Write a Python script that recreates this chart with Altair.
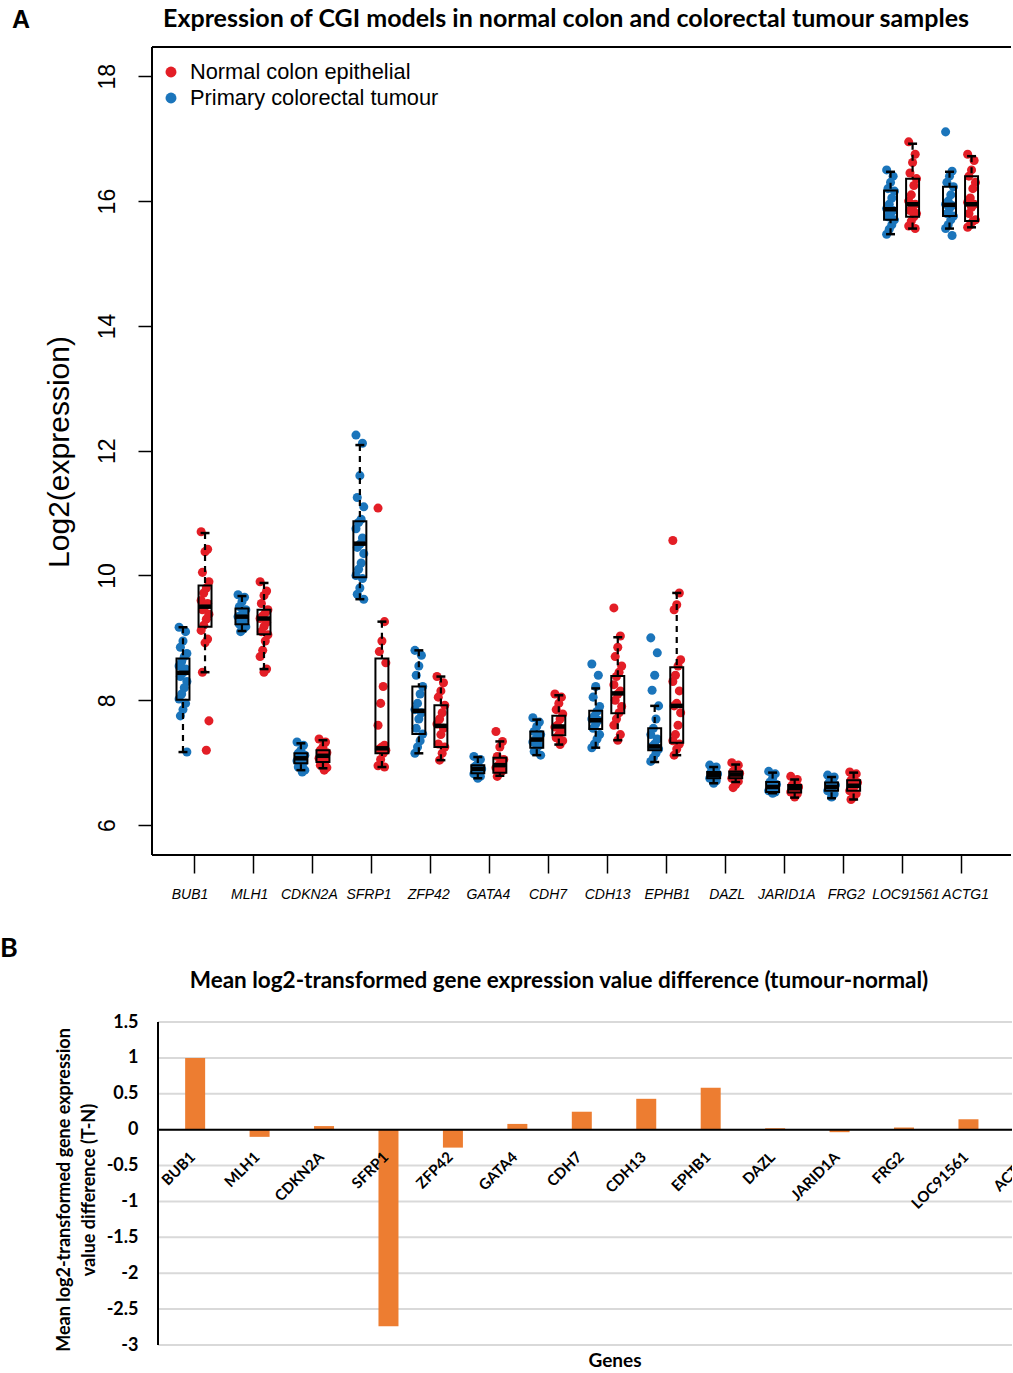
import altair as alt
import pandas as pd

genes = ["BUB1", "MLH1", "CDKN2A", "SFRP1", "ZFP42", "GATA4", "CDH7", "CDH13",
         "EPHB1", "DAZL", "JARID1A", "FRG2", "LOC91561", "ACTG1"]

# Panel A: individual samples (log2 expression)
tumour_points = [
    [9.17, 9.10, 8.95, 8.85, 8.75, 8.70, 8.62, 8.55, 8.50, 8.44, 8.38, 8.30, 8.20, 8.10, 8.02, 7.95, 7.85, 7.75, 7.17],
    [9.69, 9.65, 9.58, 9.50, 9.45, 9.40, 9.36, 9.34, 9.30, 9.26, 9.22, 9.18, 9.14, 9.10],
    [7.33, 7.28, 7.20, 7.15, 7.12, 7.08, 7.06, 7.03, 7.00, 6.97, 6.93, 6.88, 6.85],
    [12.25, 12.12, 11.60, 11.25, 11.10, 10.90, 10.85, 10.75, 10.60, 10.50, 10.45, 10.35, 10.20, 10.10, 10.00, 9.95, 9.80, 9.70, 9.62],
    [8.80, 8.72, 8.55, 8.40, 8.22, 8.10, 7.95, 7.85, 7.80, 7.70, 7.55, 7.46, 7.35, 7.25, 7.15],
    [7.10, 7.05, 6.98, 6.94, 6.90, 6.88, 6.85, 6.82, 6.78, 6.75],
    [7.72, 7.65, 7.58, 7.50, 7.45, 7.40, 7.37, 7.33, 7.28, 7.24, 7.18, 7.12],
    [8.58, 8.40, 8.22, 8.05, 7.90, 7.82, 7.75, 7.70, 7.68, 7.62, 7.55, 7.45, 7.38, 7.30, 7.24],
    [9.00, 8.76, 8.40, 8.16, 7.91, 7.70, 7.55, 7.45, 7.38, 7.30, 7.26, 7.22, 7.15, 7.08, 7.02],
    [6.96, 6.93, 6.88, 6.85, 6.82, 6.80, 6.78, 6.75, 6.71, 6.67],
    [6.86, 6.82, 6.75, 6.69, 6.65, 6.61, 6.58, 6.55, 6.53, 6.51],
    [6.80, 6.77, 6.72, 6.68, 6.64, 6.61, 6.58, 6.55, 6.50, 6.45],
    [16.50, 16.40, 16.30, 16.20, 16.16, 16.05, 15.95, 15.88, 15.85, 15.80, 15.75, 15.70, 15.62, 15.55, 15.47],
    [17.11, 16.48, 16.40, 16.30, 16.23, 16.10, 16.00, 15.95, 15.93, 15.88, 15.80, 15.76, 15.70, 15.62, 15.56, 15.45],
]
normal_points = [
    [10.70, 10.42, 10.38, 10.05, 9.90, 9.80, 9.72, 9.60, 9.55, 9.50, 9.45, 9.38, 9.30, 9.20, 9.12, 8.98, 8.92, 8.45, 7.67, 7.20],
    [9.90, 9.75, 9.68, 9.55, 9.45, 9.40, 9.35, 9.31, 9.25, 9.18, 9.10, 9.05, 8.95, 8.80, 8.70, 8.50, 8.45],
    [7.38, 7.33, 7.25, 7.20, 7.16, 7.12, 7.10, 7.07, 7.03, 7.00, 6.96, 6.92, 6.88],
    [11.08, 9.26, 8.95, 8.78, 8.60, 8.22, 7.95, 7.60, 7.28, 7.25, 7.22, 7.20, 7.15, 7.05, 6.95, 6.93],
    [8.38, 8.28, 8.15, 8.05, 7.92, 7.80, 7.70, 7.62, 7.55, 7.45, 7.30, 7.25, 7.15, 7.04],
    [7.50, 7.34, 7.25, 7.10, 7.05, 7.00, 6.96, 6.92, 6.87, 6.83, 6.78],
    [8.10, 8.05, 7.95, 7.85, 7.78, 7.70, 7.60, 7.57, 7.52, 7.45, 7.40, 7.35, 7.29],
    [9.48, 9.03, 8.85, 8.70, 8.55, 8.45, 8.38, 8.25, 8.15, 8.10, 8.00, 7.90, 7.80, 7.70, 7.60, 7.45, 7.36],
    [10.56, 9.72, 9.53, 9.45, 8.65, 8.55, 8.40, 8.30, 8.15, 7.95, 7.91, 7.80, 7.60, 7.45, 7.35, 7.30, 7.22, 7.12],
    [7.00, 6.96, 6.90, 6.86, 6.83, 6.81, 6.79, 6.75, 6.70, 6.65, 6.60],
    [6.78, 6.73, 6.68, 6.64, 6.61, 6.59, 6.56, 6.53, 6.50, 6.45],
    [6.85, 6.82, 6.77, 6.72, 6.68, 6.63, 6.60, 6.55, 6.50, 6.45, 6.41],
    [16.95, 16.75, 16.62, 16.45, 16.36, 16.25, 16.10, 16.00, 15.95, 15.90, 15.85, 15.80, 15.75, 15.68, 15.60, 15.56],
    [16.75, 16.65, 16.50, 16.40, 16.30, 16.20, 16.05, 15.98, 15.95, 15.90, 15.80, 15.70, 15.68, 15.62, 15.58],
]

# Panel A: box statistics
tumour_q1 = [8.01, 9.22, 6.99, 9.97, 7.46, 6.83, 7.24, 7.54, 7.20, 6.75, 6.53, 6.55, 15.70, 15.76]
tumour_med = [8.44, 9.34, 7.07, 10.51, 7.83, 6.90, 7.37, 7.68, 7.26, 6.80, 6.61, 6.61, 15.87, 15.94]
tumour_q3 = [8.67, 9.47, 7.15, 10.87, 8.22, 6.96, 7.50, 7.83, 7.55, 6.85, 6.69, 6.68, 16.17, 16.23]
tumour_lo = [7.17, 9.11, 6.88, 9.62, 7.15, 6.75, 7.12, 7.24, 7.01, 6.67, 6.51, 6.43, 15.47, 15.56]
tumour_hi = [9.17, 9.67, 7.31, 12.09, 8.80, 7.09, 7.69, 8.19, 7.91, 6.93, 6.84, 6.77, 16.47, 16.47]

normal_q1 = [9.18, 9.06, 7.01, 7.15, 7.25, 6.84, 7.44, 7.79, 7.32, 6.75, 6.52, 6.55, 15.75, 15.68]
normal_med = [9.50, 9.31, 7.11, 7.23, 7.59, 6.96, 7.58, 8.11, 7.91, 6.81, 6.59, 6.63, 15.95, 15.95]
normal_q3 = [9.84, 9.45, 7.20, 8.67, 7.92, 7.08, 7.75, 8.39, 8.53, 6.86, 6.64, 6.72, 16.36, 16.40]
normal_lo = [8.45, 8.50, 6.91, 6.93, 7.04, 6.79, 7.29, 7.36, 7.12, 6.69, 6.44, 6.41, 15.56, 15.58]
normal_hi = [10.68, 9.88, 7.36, 9.26, 8.38, 7.34, 8.08, 9.01, 9.72, 6.97, 6.73, 6.84, 16.92, 16.72]

# Panel B: mean difference (tumour - normal)
diff_values = [1.00, -0.10, 0.05, -2.74, -0.25, 0.08, 0.25, 0.43, 0.585, 0.02, -0.035, 0.03, 0.145, 0.01]

legend_labels = ["Normal colon epithelial", "Primary colorectal tumour"]
ya_ticks = [6, 8, 10, 12, 14, 16, 18]
yb_ticks = [1.5, 1.0, 0.5, 0.0, -0.5, -1.0, -1.5, -2.0, -2.5, -3.0]

title_a = "Expression of CGI models in normal colon and colorectal tumour samples"
title_b = "Mean log2-transformed gene expression value difference (tumour-normal)"
ytitle_a = "Log2(expression)"
ytitle_b = ["Mean log2-transformed gene expression", "value difference (T-N)"]
xtitle_b = "Genes"

# ---------------- styling ----------------
BLUE = "#1B75BB"
RED = "#E31E26"
ORANGE = "#ED7D31"
W = 860
HA = 808
HB = 323
OFF = 0.187      # half distance between the two boxes of a gene
BOXW = 0.11      # half box width
CAPW = 0.076     # half cap width
XA_DOMAIN = [-0.7124, 13.873]
YA_DOMAIN = [5.52, 18.47]
XB_DOMAIN = [-0.592, 12.598]
YB_DOMAIN = [-3.0, 1.5]
LABEL_A_START = -0.068   # x-axis label layout of panel A
LABEL_A_STEP = 1.012
SANS = "Liberation Sans"
BOLD = "Lato"

# ---------------- tables ----------------
prow = []
brow = []
for i, g in enumerate(genes):
    for grp, pts, sign, q1, md, q3, lo, hi in (
        ("Tumour", tumour_points[i], -1, tumour_q1[i], tumour_med[i], tumour_q3[i], tumour_lo[i], tumour_hi[i]),
        ("Normal", normal_points[i], 1, normal_q1[i], normal_med[i], normal_q3[i], normal_lo[i], normal_hi[i]),
    ):
        c = i + sign * OFF
        for k, v in enumerate(pts):
            jit = ((k * 5) % 7 - 3) * 0.022
            prow.append({"gene": g, "group": grp, "value": v, "pos": c + jit})
        brow.append({"gene": g, "group": grp, "pos": c, "q1": q1, "med": md, "q3": q3,
                     "lo": lo, "hi": hi, "bl": c - BOXW, "br": c + BOXW,
                     "cl": c - CAPW, "cr": c + CAPW})
pts_df = pd.DataFrame(prow)
box_df = pd.DataFrame(brow)
gene_df = pd.DataFrame({"gene": genes, "idx": list(range(len(genes)))})
one = pd.DataFrame({"t": [0]})

xa = alt.Scale(domain=XA_DOMAIN, nice=False, zero=False)
ya = alt.Scale(domain=YA_DOMAIN, nice=False, zero=False)
color_scale = alt.Scale(domain=["Tumour", "Normal"], range=[BLUE, RED])

x_axis_a = alt.Axis(values=list(range(len(genes))), labels=False, tickSize=18, tickWidth=1.5,
                    tickColor="black", domain=False, grid=False, title=None)
y_axis_a = alt.Axis(values=ya_ticks, tickSize=14, tickWidth=1.5, tickColor="black", labelAngle=270,
                    labelAlign="center", labelBaseline="alphabetic", labelPadding=24, labelFont=SANS,
                    labelFontSize=23, labelColor="black", domain=False, grid=False, title=None,
                    labelOverlap=False, labelFlush=False)


def XA(field):
    return alt.X(field, type="quantitative", scale=xa, axis=x_axis_a)


def YA(field):
    return alt.Y(field, type="quantitative", scale=ya, axis=y_axis_a)


points = alt.Chart(pts_df).mark_circle(size=82, opacity=1).encode(
    x=XA("pos"), y=YA("value"),
    color=alt.Color("group:N", scale=color_scale, legend=None),
)

base_box = alt.Chart(box_df)
whisk_hi = base_box.mark_rule(color="black", strokeWidth=2.2, strokeDash=[6, 5]).encode(
    x=XA("pos"), y=YA("hi"), y2="q3:Q")
whisk_lo = base_box.mark_rule(color="black", strokeWidth=2.2, strokeDash=[6, 5]).encode(
    x=XA("pos"), y=YA("lo"), y2="q1:Q")
cap_hi = base_box.mark_rule(color="black", strokeWidth=2.5).encode(
    x=XA("cl"), x2="cr:Q", y=YA("hi"))
cap_lo = base_box.mark_rule(color="black", strokeWidth=2.5).encode(
    x=XA("cl"), x2="cr:Q", y=YA("lo"))
boxes = base_box.mark_rect(fillOpacity=0, stroke="black", strokeWidth=2).encode(
    x=XA("bl"), x2="br:Q", y=YA("q1"), y2="q3:Q")
medians = base_box.mark_rule(color="black", strokeWidth=4.5).encode(
    x=XA("bl"), x2="br:Q", y=YA("med"))

xlabels_a = alt.Chart(gene_df).transform_calculate(
    lx=f"{LABEL_A_START} + {LABEL_A_STEP} * datum.idx"
).mark_text(font=SANS, fontStyle="italic", fontSize=14, align="center", baseline="alphabetic",
            color="black").encode(
    x=XA("lx"), y=alt.value(HA + 44), text="gene:N")

frame = alt.layer(
    alt.Chart(one).mark_rule(color="black", strokeWidth=2).encode(x=alt.value(0), y=alt.value(0), y2=alt.value(HA)),
    alt.Chart(one).mark_rule(color="black", strokeWidth=2).encode(x=alt.value(0), x2=alt.value(W - 1), y=alt.value(0)),
    alt.Chart(one).mark_rule(color="black", strokeWidth=2).encode(x=alt.value(0), x2=alt.value(W - 1), y=alt.value(HA)),
)

anchor = alt.Chart(one).mark_rule(strokeWidth=0, strokeOpacity=0).encode(
    x=alt.value(-152), x2=alt.value(-152), y=alt.value(-47), y2=alt.value(-46))

leg_layers = []
for lab, col, yy in ((legend_labels[0], RED, 25), (legend_labels[1], BLUE, 51)):
    leg_layers.append(alt.Chart(one).mark_circle(size=120, opacity=1, color=col).encode(
        x=alt.value(19), y=alt.value(yy)))
    leg_layers.append(alt.Chart(one).mark_text(text=lab, align="left", baseline="middle", font=SANS,
                                               fontSize=21.8, color="black").encode(
        x=alt.value(38), y=alt.value(yy)))

title_a_mark = alt.Chart(one).mark_text(text=title_a, font=BOLD, fontWeight="bold", fontSize=25,
                                        align="center", baseline="alphabetic", color="black").encode(
    x=alt.value(414), y=alt.value(-20))
letter_a = alt.Chart(one).mark_text(text="A", font=SANS, fontWeight="bold", fontSize=25,
                                    align="left", baseline="alphabetic", color="black").encode(
    x=alt.value(-140), y=alt.value(-19))
ytitle_a_mark = alt.Chart(one).mark_text(text=ytitle_a, font=SANS, fontSize=30, angle=270,
                                         align="center", baseline="alphabetic", color="black").encode(
    x=alt.value(-83), y=alt.value(405))

panel_a = alt.layer(
    points, whisk_hi, whisk_lo, boxes, medians, cap_hi, cap_lo, frame, xlabels_a,
    *leg_layers, title_a_mark, letter_a, ytitle_a_mark, anchor,
).properties(width=W, height=HA)

# ---------------- panel B ----------------
xb = alt.Scale(domain=XB_DOMAIN, nice=False, zero=False)
yb = alt.Scale(domain=YB_DOMAIN, nice=False, zero=False)
LABEL_Y = -0.348
LABEL_DX = -0.04

bar_df = pd.DataFrame({"gene": genes, "idx": list(range(len(genes))), "diff": diff_values})
grid_df = pd.DataFrame({"g": yb_ticks})
zero_df = pd.DataFrame({"z": [0.0]})

y_axis_b = alt.Axis(values=yb_ticks, labelExpr="'' + datum.value", ticks=False,
                    labelPadding=14, labelFont=BOLD, labelFontWeight="bold", labelFontSize=18,
                    labelColor="black", labelAlign="right", labelBaseline="middle",
                    domain=False, grid=False, title=None, labelOverlap=False, labelFlush=False)


def XB(field):
    return alt.X(field, type="quantitative", scale=xb, axis=None)


def YB(field):
    return alt.Y(field, type="quantitative", scale=yb, axis=y_axis_b)


grid = alt.Chart(grid_df).mark_rule(color="#D9D9D9", strokeWidth=2).encode(
    y=YB("g"), x=alt.value(6), x2=alt.value(W))
bars = alt.Chart(bar_df).mark_bar(size=20, color=ORANGE, clip=True).encode(
    x=XB("idx"), y=YB("diff"),
)
zero_line = alt.Chart(zero_df).mark_rule(color="black", strokeWidth=2).encode(
    y=YB("z"), x=alt.value(6), x2=alt.value(W))
yline_b = alt.Chart(one).mark_rule(color="black", strokeWidth=2).encode(
    x=alt.value(6), y=alt.value(0), y2=alt.value(HB))
labels_b = alt.Chart(bar_df).transform_calculate(
    lx="datum.idx + " + str(LABEL_DX), ly=str(LABEL_Y)
).mark_text(angle=315, align="right", baseline="middle", font=BOLD, fontWeight="bold",
            fontSize=15, color="black", clip=True).encode(
    x=XB("lx"), y=YB("ly"), text="gene:N",
)
title_b_mark = alt.Chart(one).mark_text(text=title_b, font=BOLD, fontWeight="bold", fontSize=22.5,
                                        align="center", baseline="alphabetic", color="black").encode(
    x=alt.value(407), y=alt.value(-34))
letter_b = alt.Chart(one).mark_text(text="B", font=BOLD, fontWeight="bold", fontSize=27,
                                    align="left", baseline="alphabetic", color="black").encode(
    x=alt.value(-152), y=alt.value(-65))
ytitle_b1 = alt.Chart(one).mark_text(text=ytitle_b[0], font=BOLD, fontWeight="bold", fontSize=18,
                                     angle=270, align="center", baseline="alphabetic",
                                     color="black").encode(x=alt.value(-82), y=alt.value(168))
ytitle_b2 = alt.Chart(one).mark_text(text=ytitle_b[1], font=BOLD, fontWeight="bold", fontSize=18,
                                     angle=270, align="center", baseline="alphabetic",
                                     color="black").encode(x=alt.value(-57), y=alt.value(168))
xtitle_b_mark = alt.Chart(one).mark_text(text=xtitle_b, font=BOLD, fontWeight="bold", fontSize=19,
                                         align="center", baseline="alphabetic", color="black").encode(
    x=alt.value(463), y=alt.value(345))

panel_b = alt.layer(
    grid, bars, zero_line, yline_b, labels_b, title_b_mark, letter_b, ytitle_b1, ytitle_b2, xtitle_b_mark,
).properties(width=W, height=HB)

chart = alt.vconcat(panel_a, panel_b, spacing=167, bounds="flush").properties(
    padding=0, background="white"
).configure_view(stroke=None)

chart.save("out.html", embed_options={"renderer": "svg", "actions": False})
